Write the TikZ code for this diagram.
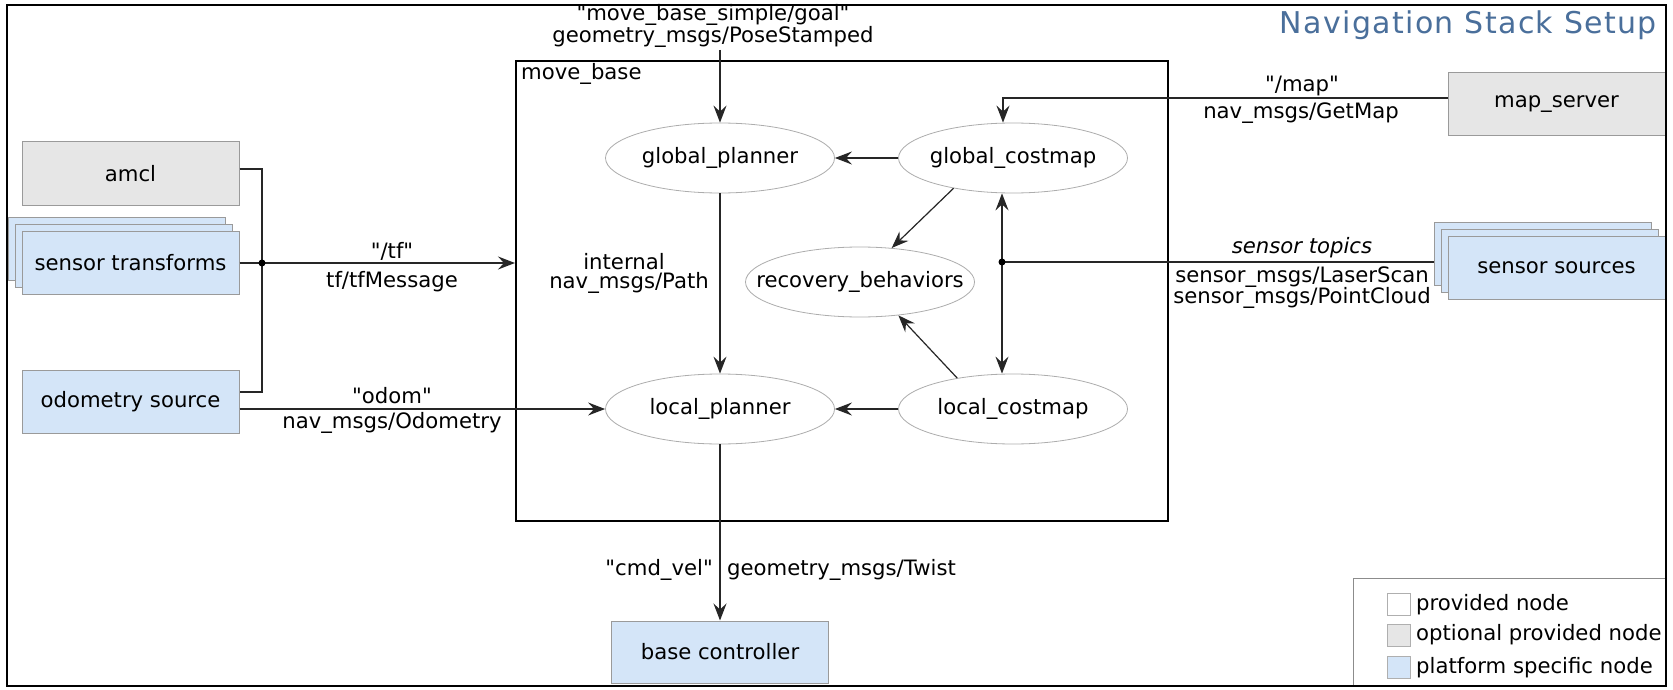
\documentclass[tikz,border=0pt]{standalone}
\usepackage{fontspec}
\setmainfont{DejaVu Sans}
\setmonofont{DejaVu Sans}
\newfontfamily\titlefont[LetterSpace=4.5]{DejaVu Sans}
\usetikzlibrary{arrows.meta,shapes.geometric}
\newcommand{\dq}{{\ttfamily\symbol{34}}}
\definecolor{boxgray}{HTML}{E6E6E6}
\definecolor{boxblue}{HTML}{D4E5F8}
\definecolor{boxline}{HTML}{9A9A9A}
\definecolor{ellline}{HTML}{ADADAD}
\definecolor{titleblue}{HTML}{4A6F9B}
\definecolor{legline}{HTML}{8C8C8C}
\tikzset{
  lbl/.style={font=\fontsize{21.2}{22}\selectfont, inner sep=0pt},
  pbox/.style={draw=boxline, line width=1pt, minimum width=217pt, minimum height=63pt,
    font=\fontsize{21.2}{22}\selectfont, inner sep=0pt},
  graybox/.style={pbox, fill=boxgray},
  bluebox/.style={pbox, fill=boxblue},
  ell/.style={ellipse, draw=ellline, line width=0.8pt, minimum width=229pt, minimum height=70pt, inner sep=0pt},
  conn/.style={line width=1.5pt, draw=black!85},
  arr/.style={conn, -{Stealth[length=17pt,width=13pt,inset=6pt]}},
  darr/.style={conn, {Stealth[length=17pt,width=13pt,inset=6pt]}-{Stealth[length=17pt,width=13pt,inset=6pt]}},
  jdot/.style={circle, fill=black, inner sep=0pt, minimum size=7pt},
  swatch/.style={draw=legline!70, line width=0.8pt, minimum width=23pt, minimum height=22pt, inner sep=0pt},
}
\begin{document}
\begin{tikzpicture}[x=1pt,y=-1pt]
\useasboundingbox (0,0) rectangle (1673,690);
\fill[white] (0,0) rectangle (1673,690);

% title
\node[anchor=east, inner sep=0pt, text=titleblue, font=\titlefont\fontsize{30}{32}\selectfont] (title) at (1657,25) {Navigation Stack Setup};

% move_base frame
\node[draw=black, line width=2pt, minimum width=652pt, minimum height=460pt, inner sep=0pt] (mb) at (842,291) {};
\node[lbl, anchor=west] (mblbl) at (521,74) {move\_base};

% left nodes
\node[graybox] (amcl) at (130.5,173.5) {amcl};
\node[bluebox] (st3) at (116.5,249) {};
\node[bluebox] (st2) at (123.5,256) {};
\node[bluebox] (st) at (130.5,263) {sensor transforms};
\node[bluebox] (odom) at (130.5,401.5) {odometry source};

% right nodes
\node[graybox] (mapsrv) at (1556.5,104.5) {map\_server};
\node[bluebox] (ss3) at (1542.5,253.5) {};
\node[bluebox] (ss2) at (1549.5,260.5) {};
\node[bluebox] (ss) at (1556.5,267.5) {sensor sources};

% bottom node
\node[bluebox, minimum height=62pt] (basectl) at (720,652) {base controller};

% ellipses
\node[ell, label={[lbl]center:global\_planner}] (gp) at (720,158) {};
\node[ell, label={[lbl]center:global\_costmap}] (gc) at (1013,158) {};
\node[ell, label={[lbl]center:recovery\_behaviors}] (rec) at (860,282) {};
\node[ell, label={[lbl]center:local\_planner}] (lp) at (720,409) {};
\node[ell, label={[lbl]center:local\_costmap}] (lc) at (1013,409) {};

% goal
\node[lbl] (goal1) at (713,15) {\dq move\_base\_simple/goal\dq};
\node[lbl] (goal2) at (713,37) {geometry\_msgs/PoseStamped};
\coordinate (goalstart) at (720,50);
\draw[arr] (goalstart) -- (gp.north);

% tf
\coordinate (tfdot) at (262,263);
\coordinate (amo) at ([yshift=4.5pt]amcl.east);
\coordinate (odin) at ([yshift=9.5pt]odom.east);
\draw[conn] (amo) -- (amo -| tfdot) -- (odin -| tfdot) -- (odin);
\draw[arr] (st.east) -- (tfdot) -- (tfdot -| mb.west);
\node[jdot] (tfd) at (tfdot) {};
\node[lbl] (tf1) at (392,251) {\dq/tf\dq};
\node[lbl] (tf2) at (392,282) {tf/tfMessage};

% odom
\coordinate (odout) at ([yshift=-7.5pt]odom.east);
\draw[arr] (odout) -- (odout -| lp.west);
\node[lbl] (od1) at (392,396) {\dq odom\dq};
\node[lbl] (od2) at (392,423) {nav\_msgs/Odometry};

% internal
\node[lbl] (int1) at (624,262) {internal};
\node[lbl] (int2) at (629,283) {nav\_msgs/Path};

% map
\coordinate (mapc) at (1003,98);
\coordinate (mapo) at (mapsrv.west |- mapc);
\draw[arr] (mapo) -- (mapc) -- (mapc |- gc.north);
\node[lbl] (map1) at (1302,86) {\dq/map\dq};
\node[lbl] (map2) at (1301,113) {nav\_msgs/GetMap};

% sensors
\coordinate (sdot) at (1002,262);
\draw[conn] (ss3.west |- sdot) -- (sdot);
\draw[darr] (gc.south -| sdot) -- (lc.north -| sdot);
\node[jdot] (sd) at (sdot) {};
\node[lbl, font=\fontsize{21.2}{22}\selectfont\itshape] (sen1) at (1302,248) {sensor topics};
\node[lbl] (sen2) at (1302,277) {sensor\_msgs/LaserScan};
\node[lbl] (sen3) at (1302,298) {sensor\_msgs/PointCloud};

% internal arrows
\draw[arr] (gc.west) -- (gp.east);
\draw[arr] (lc.west) -- (lp.east);
\draw[arr] (gp.south) -- (lp.north);
\draw[arr, line width=1.2pt] (gc.207) -- (rec.47);
\draw[arr, line width=1.2pt] (lc.151) -- (rec.319);

% cmd_vel
\draw[arr] (lp.south) -- (basectl.north);
\node[lbl, anchor=east] (cmd1) at (713,570) {\dq cmd\_vel\dq};
\node[lbl, anchor=west] (cmd2) at (727,570) {geometry\_msgs/Twist};

% legend
\draw[draw=legline, line width=1pt] (1353,578) rectangle (1665,686);
\node[swatch, fill=white] (sw1) at (1398.5,604.5) {};
\node[swatch, fill=boxgray] (sw2) at (1398.5,635) {};
\node[swatch, fill=boxblue] (sw3) at (1398.5,667.5) {};
\node[lbl, anchor=west] (lg1) at (1416,604.5) {provided node};
\node[lbl, anchor=west] (lg2) at (1416,635) {optional provided node};
\node[lbl, anchor=west] (lg3) at (1416,667.5) {platform specific node};

% outer frame
\draw[line width=2.5pt] (7,5) rectangle (1666,686);
\end{tikzpicture}
\end{document}
